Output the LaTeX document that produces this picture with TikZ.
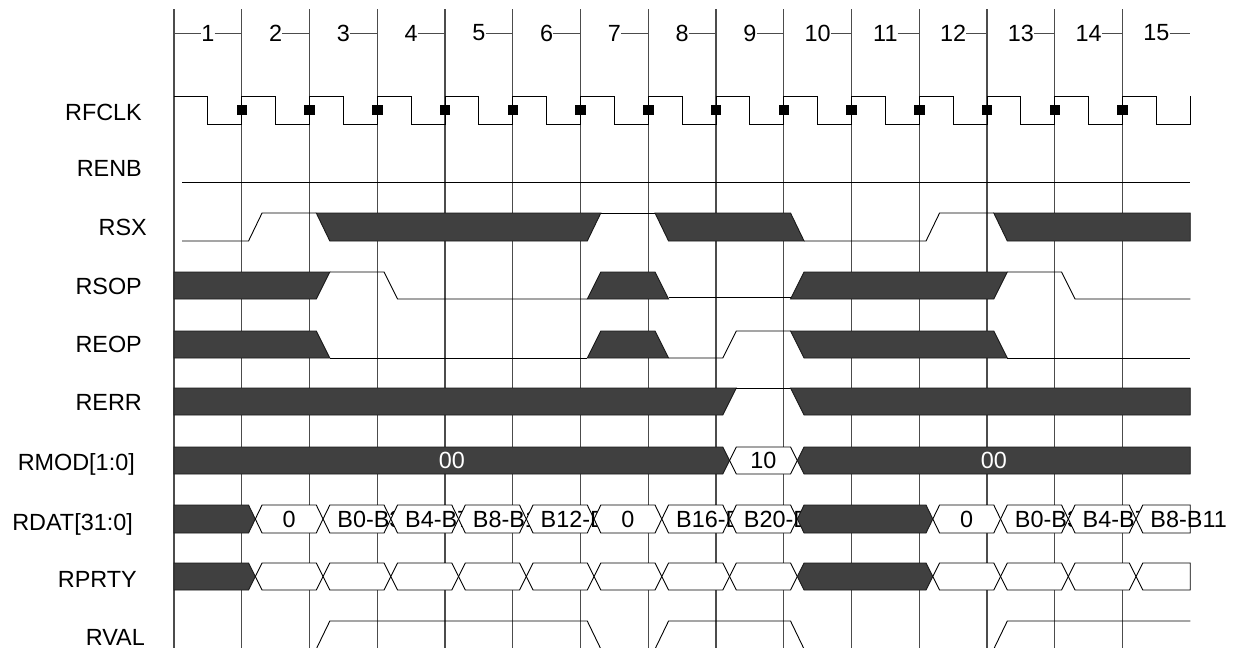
\documentclass[tikz,border=0pt]{standalone}
\usepackage{fontspec}
\setmainfont{Liberation Sans}
\usepackage{tikz}

\begin{document}
\begin{tikzpicture}[x=67.75pt,y=-1pt,
  font=\fontsize{23.4pt}{28pt}\selectfont,
  gridline/.style={draw=black!70,line width=1.1pt},
  sig/.style={draw=black,line width=0.9pt},
  darkbus/.style={fill=black!75,draw=black!90,line width=0.9pt},
  whitebus/.style={fill=white,draw=black,line width=0.9pt},
  signame/.style={anchor=base east,inner sep=0pt},
  cycnum/.style={inner sep=0pt},
  clkmark/.style={fill=black,inner sep=0pt,minimum size=10.5pt},
  buslabel/.style={inner sep=0pt}]
\useasboundingbox (-2.5683,0) rectangle (15.7491,648);
% cycle boundaries
\draw[gridline] (0,9) -- (0,648);
\draw[gridline] (1,9) -- (1,648);
\draw[gridline] (2,9) -- (2,648);
\draw[gridline] (3,9) -- (3,648);
\draw[gridline] (4,9) -- (4,648);
\draw[gridline] (5,9) -- (5,648);
\draw[gridline] (6,9) -- (6,648);
\draw[gridline] (7,9) -- (7,648);
\draw[gridline] (8,9) -- (8,648);
\draw[gridline] (9,9) -- (9,648);
\draw[gridline] (10,9) -- (10,648);
\draw[gridline] (11,9) -- (11,648);
\draw[gridline] (12,9) -- (12,648);
\draw[gridline] (13,9) -- (13,648);
\draw[gridline] (14,9) -- (14,648);
% cycle numbers
\node[cycnum] (c1) at (0.5,33) {1};
\node[cycnum] (c2) at (1.5,33) {2};
\node[cycnum] (c3) at (2.5,33) {3};
\node[cycnum] (c4) at (3.5,33) {4};
\node[cycnum] (c5) at (4.5,33) {5};
\node[cycnum] (c6) at (5.5,33) {6};
\node[cycnum] (c7) at (6.5,33) {7};
\node[cycnum] (c8) at (7.5,33) {8};
\node[cycnum] (c9) at (8.5,33) {9};
\node[cycnum] (c10) at (9.5,33) {10};
\node[cycnum] (c11) at (10.5,33) {11};
\node[cycnum] (c12) at (11.5,33) {12};
\node[cycnum] (c13) at (12.5,33) {13};
\node[cycnum] (c14) at (13.5,33) {14};
\node[cycnum] (c15) at (14.5,33) {15};
\draw[gridline,line width=1pt] (0,33) -- (c1.west);
\draw[gridline,line width=1pt] (c1.east) -- (1,33);
\draw[gridline,line width=1pt] (c2.east) -- (2,33);
\draw[gridline,line width=1pt] (c3.east) -- (3,33);
\draw[gridline,line width=1pt] (c4.east) -- (4,33);
\draw[gridline,line width=1pt] (c5.east) -- (5,33);
\draw[gridline,line width=1pt] (c6.east) -- (6,33);
\draw[gridline,line width=1pt] (c7.east) -- (7,33);
\draw[gridline,line width=1pt] (c8.east) -- (8,33);
\draw[gridline,line width=1pt] (c9.east) -- (9,33);
\draw[gridline,line width=1pt] (c10.east) -- (10,33);
\draw[gridline,line width=1pt] (c11.east) -- (11,33);
\draw[gridline,line width=1pt] (c12.east) -- (12,33);
\draw[gridline,line width=1pt] (c13.east) -- (13,33);
\draw[gridline,line width=1pt] (c14.east) -- (14,33);
\draw[gridline,line width=1pt] (c15.east) -- (15,33);
% signal names
\node[signame] (nRFCLK) at (-0.472,120) {RFCLK};
\node[signame] (nRENB) at (-0.472,176) {RENB};
\node[signame] (nRSX) at (-0.399,235) {RSX};
\node[signame] (nRSOP) at (-0.472,294) {RSOP};
\node[signame] (nREOP) at (-0.472,352) {REOP};
\node[signame] (nRERR) at (-0.472,410) {RERR};
\node[signame] (nRMOD) at (-0.576,470) {RMOD[1:0]};
\node[signame] (nRDAT) at (-0.605,530) {RDAT[31:0]};
\node[signame] (nRPRTY) at (-0.546,587) {RPRTY};
\node[signame] (nRVAL) at (-0.428,645) {RVAL};
% RFCLK
\draw[sig] (0,96) -- (0.5,96) -- (0.5,124) -- (1,124) -- (1,96)
  -- (1.5,96) -- (1.5,124) -- (2,124) -- (2,96)
  -- (2.5,96) -- (2.5,124) -- (3,124) -- (3,96)
  -- (3.5,96) -- (3.5,124) -- (4,124) -- (4,96)
  -- (4.5,96) -- (4.5,124) -- (5,124) -- (5,96)
  -- (5.5,96) -- (5.5,124) -- (6,124) -- (6,96)
  -- (6.5,96) -- (6.5,124) -- (7,124) -- (7,96)
  -- (7.5,96) -- (7.5,124) -- (8,124) -- (8,96)
  -- (8.5,96) -- (8.5,124) -- (9,124) -- (9,96)
  -- (9.5,96) -- (9.5,124) -- (10,124) -- (10,96)
  -- (10.5,96) -- (10.5,124) -- (11,124) -- (11,96)
  -- (11.5,96) -- (11.5,124) -- (12,124) -- (12,96)
  -- (12.5,96) -- (12.5,124) -- (13,124) -- (13,96)
  -- (13.5,96) -- (13.5,124) -- (14,124) -- (14,96)
  -- (14.5,96) -- (14.5,124) -- (15,124) -- (15,96);
\node[clkmark] (m1) at (1,110) {};
\node[clkmark] (m2) at (2,110) {};
\node[clkmark] (m3) at (3,110) {};
\node[clkmark] (m4) at (4,110) {};
\node[clkmark] (m5) at (5,110) {};
\node[clkmark] (m6) at (6,110) {};
\node[clkmark] (m7) at (7,110) {};
\node[clkmark] (m8) at (8,110) {};
\node[clkmark] (m9) at (9,110) {};
\node[clkmark] (m10) at (10,110) {};
\node[clkmark] (m11) at (11,110) {};
\node[clkmark] (m12) at (12,110) {};
\node[clkmark] (m13) at (13,110) {};
\node[clkmark] (m14) at (14,110) {};
% RENB
\draw[sig] (0.12,182) -- (15,182);
% RSX
\draw[sig] (0.12,241) -- (1.1,241) -- (1.3,213) -- (2.1,213);
\filldraw[darkbus] (2.1,213) -- (6.3,213) -- (6.1,241) -- (2.3,241) -- cycle;
\draw[sig] (6.3,213) -- (7.1,213);
\filldraw[darkbus] (7.1,213) -- (9.1,213) -- (9.3,241) -- (7.3,241) -- cycle;
\draw[sig] (9.3,241) -- (11.1,241) -- (11.3,213) -- (12.1,213);
\filldraw[darkbus] (12.1,213) -- (15,213) -- (15,241) -- (12.3,241) -- cycle;
% RSOP
\filldraw[darkbus] (0,272) -- (2.3,272) -- (2.1,299) -- (0,299) -- cycle;
\draw[sig] (2.3,272) -- (3.1,272) -- (3.3,299) -- (6.1,299);
\filldraw[darkbus] (6.1,299) -- (6.3,272) -- (7.1,272) -- (7.3,299) -- cycle;
\draw[sig] (7.3,297.5) -- (9.1,297.5);
\filldraw[darkbus] (9.1,299) -- (9.3,272) -- (12.3,272) -- (12.1,299) -- cycle;
\draw[sig] (12.3,272) -- (13.1,272) -- (13.3,299) -- (15,299);
% REOP
\filldraw[darkbus] (0,331) -- (2.1,331) -- (2.3,358) -- (0,358) -- cycle;
\draw[sig] (2.3,358) -- (6.1,358);
\filldraw[darkbus] (6.1,358) -- (6.3,331) -- (7.1,331) -- (7.3,358) -- cycle;
\draw[sig] (7.3,358) -- (8.1,358) -- (8.3,331) -- (9.1,331);
\filldraw[darkbus] (9.1,331) -- (12.1,331) -- (12.3,358) -- (9.3,358) -- cycle;
\draw[sig] (12.3,358) -- (15,358);
% RERR
\filldraw[darkbus] (0,388) -- (8.3,388) -- (8.1,415) -- (0,415) -- cycle;
\draw[sig] (8.3,388) -- (9.1,388);
\filldraw[darkbus] (9.1,388) -- (15,388) -- (15,415) -- (9.3,415) -- cycle;
% RMOD[1:0]
\filldraw[darkbus] (0,447) -- (8.1,447) -- (8.2,460.5) -- (8.1,474) -- (0,474) -- cycle;
\node[buslabel,white] (mod1) at (4.1,460.5) {00};
\filldraw[whitebus] (8.2,460.5) -- (8.3,447) -- (9.1,447) -- (9.2,460.5) -- (9.1,474) -- (8.3,474) -- cycle;
\node[buslabel] (mod2) at (8.7,460.5) {10};
\filldraw[darkbus] (9.2,460.5) -- (9.3,447) -- (15,447) -- (15,474) -- (9.3,474) -- cycle;
\node[buslabel,white] (mod3) at (12.1,460.5) {00};
% RDAT[31:0]
\filldraw[darkbus] (0,505) -- (1.1,505) -- (1.2,519) -- (1.1,533) -- (0,533) -- cycle;
\filldraw[whitebus] (1.2,519) -- (1.3,505) -- (2.1,505) -- (2.2,519) -- (2.1,533) -- (1.3,533) -- cycle;
\node[buslabel] (dat1) at (1.7,519) {0};
\filldraw[whitebus] (2.2,519) -- (2.3,505) -- (3.1,505) -- (3.2,519) -- (3.1,533) -- (2.3,533) -- cycle;
\node[buslabel,anchor=west] (dat2) at (2.41,519) {B0-B3};
\filldraw[whitebus] (3.2,519) -- (3.3,505) -- (4.1,505) -- (4.2,519) -- (4.1,533) -- (3.3,533) -- cycle;
\node[buslabel,anchor=west] (dat3) at (3.41,519) {B4-B7};
\filldraw[whitebus] (4.2,519) -- (4.3,505) -- (5.1,505) -- (5.2,519) -- (5.1,533) -- (4.3,533) -- cycle;
\node[buslabel,anchor=west] (dat4) at (4.41,519) {B8-B11};
\filldraw[whitebus] (5.2,519) -- (5.3,505) -- (6.1,505) -- (6.2,519) -- (6.1,533) -- (5.3,533) -- cycle;
\node[buslabel,anchor=west] (dat5) at (5.41,519) {B12-B15};
\filldraw[whitebus] (6.2,519) -- (6.3,505) -- (7.1,505) -- (7.2,519) -- (7.1,533) -- (6.3,533) -- cycle;
\node[buslabel] (dat6) at (6.7,519) {0};
\filldraw[whitebus] (7.2,519) -- (7.3,505) -- (8.1,505) -- (8.2,519) -- (8.1,533) -- (7.3,533) -- cycle;
\node[buslabel,anchor=west] (dat7) at (7.41,519) {B16-B19};
\filldraw[whitebus] (8.2,519) -- (8.3,505) -- (9.1,505) -- (9.2,519) -- (9.1,533) -- (8.3,533) -- cycle;
\node[buslabel,anchor=west] (dat8) at (8.41,519) {B20-B23};
\filldraw[darkbus] (9.2,519) -- (9.3,505) -- (11.1,505) -- (11.2,519) -- (11.1,533) -- (9.3,533) -- cycle;
\filldraw[whitebus] (11.2,519) -- (11.3,505) -- (12.1,505) -- (12.2,519) -- (12.1,533) -- (11.3,533) -- cycle;
\node[buslabel] (dat9) at (11.7,519) {0};
\filldraw[whitebus] (12.2,519) -- (12.3,505) -- (13.1,505) -- (13.2,519) -- (13.1,533) -- (12.3,533) -- cycle;
\node[buslabel,anchor=west] (dat10) at (12.41,519) {B0-B3};
\filldraw[whitebus] (13.2,519) -- (13.3,505) -- (14.1,505) -- (14.2,519) -- (14.1,533) -- (13.3,533) -- cycle;
\node[buslabel,anchor=west] (dat11) at (13.41,519) {B4-B7};
\filldraw[whitebus] (14.2,519) -- (14.3,505) -- (15,505) -- (15,533) -- (14.3,533) -- cycle;
\node[buslabel,anchor=west] (dat12) at (14.41,519) {B8-B11};
% RPRTY
\filldraw[darkbus] (0,563) -- (1.1,563) -- (1.2,576.5) -- (1.1,590) -- (0,590) -- cycle;
\filldraw[whitebus] (1.2,576.5) -- (1.3,563) -- (2.1,563) -- (2.2,576.5) -- (2.1,590) -- (1.3,590) -- cycle;
\filldraw[whitebus] (2.2,576.5) -- (2.3,563) -- (3.1,563) -- (3.2,576.5) -- (3.1,590) -- (2.3,590) -- cycle;
\filldraw[whitebus] (3.2,576.5) -- (3.3,563) -- (4.1,563) -- (4.2,576.5) -- (4.1,590) -- (3.3,590) -- cycle;
\filldraw[whitebus] (4.2,576.5) -- (4.3,563) -- (5.1,563) -- (5.2,576.5) -- (5.1,590) -- (4.3,590) -- cycle;
\filldraw[whitebus] (5.2,576.5) -- (5.3,563) -- (6.1,563) -- (6.2,576.5) -- (6.1,590) -- (5.3,590) -- cycle;
\filldraw[whitebus] (6.2,576.5) -- (6.3,563) -- (7.1,563) -- (7.2,576.5) -- (7.1,590) -- (6.3,590) -- cycle;
\filldraw[whitebus] (7.2,576.5) -- (7.3,563) -- (8.1,563) -- (8.2,576.5) -- (8.1,590) -- (7.3,590) -- cycle;
\filldraw[whitebus] (8.2,576.5) -- (8.3,563) -- (9.1,563) -- (9.2,576.5) -- (9.1,590) -- (8.3,590) -- cycle;
\filldraw[darkbus] (9.2,576.5) -- (9.3,563) -- (11.1,563) -- (11.2,576.5) -- (11.1,590) -- (9.3,590) -- cycle;
\filldraw[whitebus] (11.2,576.5) -- (11.3,563) -- (12.1,563) -- (12.2,576.5) -- (12.1,590) -- (11.3,590) -- cycle;
\filldraw[whitebus] (12.2,576.5) -- (12.3,563) -- (13.1,563) -- (13.2,576.5) -- (13.1,590) -- (12.3,590) -- cycle;
\filldraw[whitebus] (13.2,576.5) -- (13.3,563) -- (14.1,563) -- (14.2,576.5) -- (14.1,590) -- (13.3,590) -- cycle;
\filldraw[whitebus] (14.2,576.5) -- (14.3,563) -- (15,563) -- (15,590) -- (14.3,590) -- cycle;
% RVAL
\draw[sig] (0,649) -- (2.1,649) -- (2.3,621) -- (6.1,621) -- (6.3,649) -- (7.1,649) -- (7.3,621)
  -- (9.1,621) -- (9.3,649) -- (12.1,649) -- (12.3,621) -- (15,621);
\end{tikzpicture}
\end{document}
